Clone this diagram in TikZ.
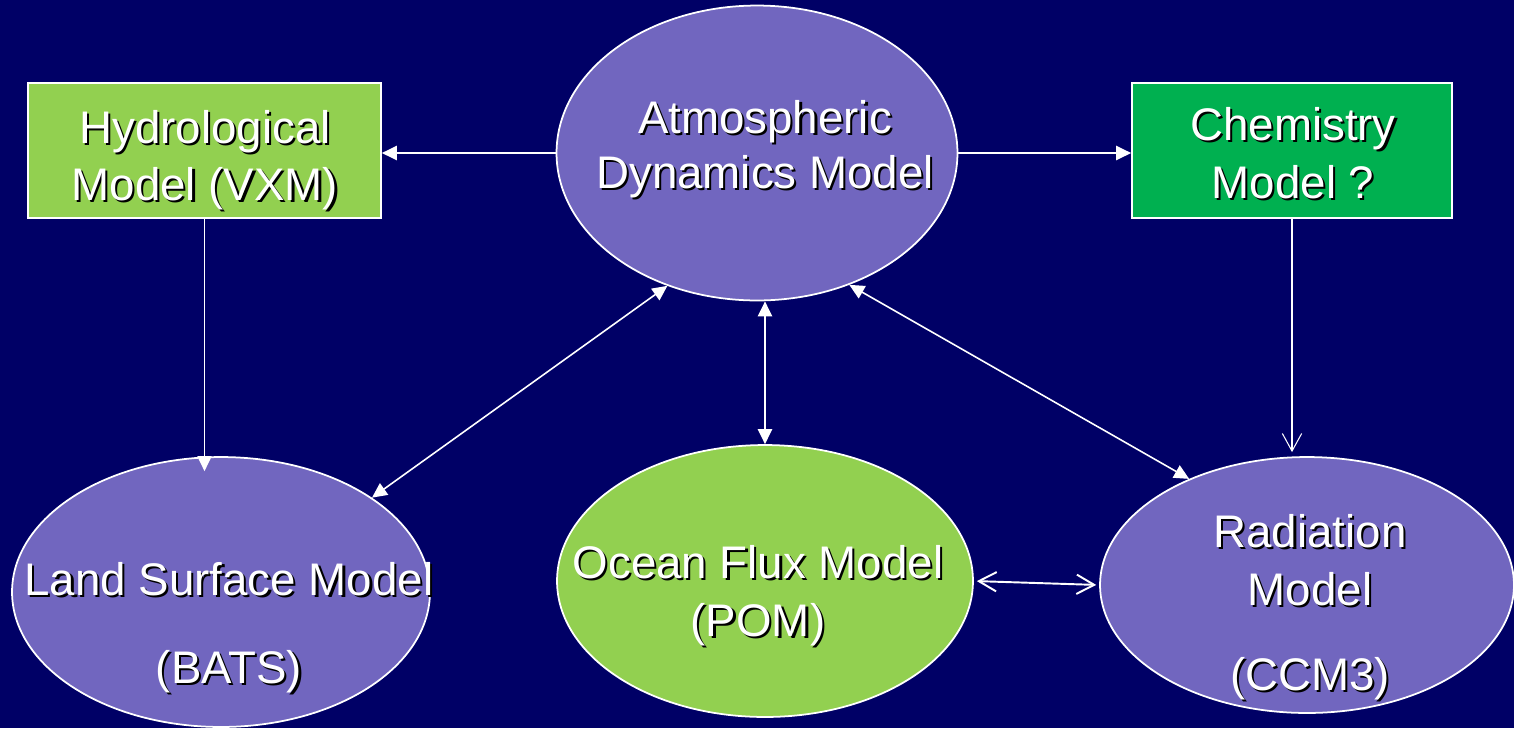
\documentclass[tikz,border=0pt]{standalone}
\usepackage{fontspec}
\setmainfont{Liberation Sans}
\usetikzlibrary{arrows.meta,shapes.geometric}
\definecolor{mNavy}{RGB}{0,0,102}
\definecolor{mViolet}{RGB}{113,102,191}
\definecolor{mLime}{RGB}{146,208,80}
\definecolor{mGreen}{RGB}{0,176,80}
\newcommand{\shadowtext}[1]{\makebox[0pt][l]{\hspace{1.2pt}\raisebox{-1.2pt}{\color{black}#1}}#1}

\begin{document}
\begin{tikzpicture}[x=0.02cm,y=-0.02cm,
  model/.style={ellipse,draw=white,line width=1pt,fill=mViolet,inner sep=0pt},
  modelbox/.style={rectangle,draw=white,line width=1pt,inner sep=0pt,minimum height=2.7cm},
  txt/.style={anchor=base,text=white,inner sep=0pt,font=\fontsize{26}{31}\selectfont},
  link/.style={draw=white,line width=1.1pt},
  onetip/.style={-{Triangle[length=8.5pt,width=8pt]}},
  twotips/.style={{Triangle[length=8.5pt,width=8pt]}-{Triangle[length=8.5pt,width=8pt]}},
  vtip/.style={-{Straight Barb[length=10pt,width=11pt]}},
  twovtips/.style={{Straight Barb[length=10pt,width=11pt]}-{Straight Barb[length=10pt,width=11pt]}}]
\useasboundingbox (0,0) rectangle (1514,728);
\fill[mNavy] (0,0) rectangle (1514,728);

% model shapes
\node[model,minimum width=8.02cm,minimum height=5.9cm] (atm) at (757,153) {};
\node[model,minimum width=8.36cm,minimum height=5.4cm] (land) at (221,592) {};
\node[model,fill=mLime,minimum width=8.32cm,minimum height=5.44cm] (ocean) at (765,581) {};
\node[model,minimum width=8.28cm,minimum height=5.12cm] (rad) at (1307,585) {};
\node[modelbox,fill=mLime,minimum width=7.06cm] (hydro) at (204.5,150.5) {};
\node[modelbox,fill=mGreen,minimum width=6.4cm] (chem) at (1292,150.5) {};

% labels
\node[txt] (atmA) at (765,133) {\shadowtext{Atmospheric}};
\node[txt] (atmB) at (765,188) {\shadowtext{Dynamics Model}};
\node[txt] (hydroA) at (205,143) {\shadowtext{Hydrological}};
\node[txt] (hydroB) at (205,200) {\shadowtext{Model (VXM)}};
\node[txt] (chemA) at (1293,140) {\shadowtext{Chemistry}};
\node[txt] (chemB) at (1293,198) {\shadowtext{Model ?}};
\node[txt] (landA) at (229,595) {\shadowtext{Land Surface Model}};
\node[txt] (landB) at (229,683) {\shadowtext{(BATS)}};
\node[txt] (oceanA) at (758,578) {\shadowtext{Ocean Flux Model}};
\node[txt] (oceanB) at (758,636) {\shadowtext{(POM)}};
\node[txt] (radA) at (1310,547) {\shadowtext{Radiation}};
\node[txt] (radB) at (1310,605) {\shadowtext{Model}};
\node[txt] (radC) at (1310,690) {\shadowtext{(CCM3)}};

% couplings
\draw[link,onetip] (atm.west) -- (hydro.east |- atm.west);
\draw[link,onetip] (atm.east) -- (chem.west |- atm.east);
\draw[link,onetip,line width=0.85pt,shorten >=-0.3cm] (hydro.south) -- (hydro.south |- land.north);
\draw[link,vtip,line width=0.6pt,shorten >=0.08cm] (chem.south) -- (chem.south |- rad.north);
\draw[link,twotips,line width=0.9pt] (land.32) -- (atm.236);
\draw[link,twotips] (ocean.north) -- (ocean.north |- atm.south);
\draw[link,twotips,line width=0.9pt] (rad.138) -- (atm.-55);
\draw[link,twovtips,shorten <=0.06cm,shorten >=0.06cm] (ocean.east) -- (rad.west);
\end{tikzpicture}
\end{document}
